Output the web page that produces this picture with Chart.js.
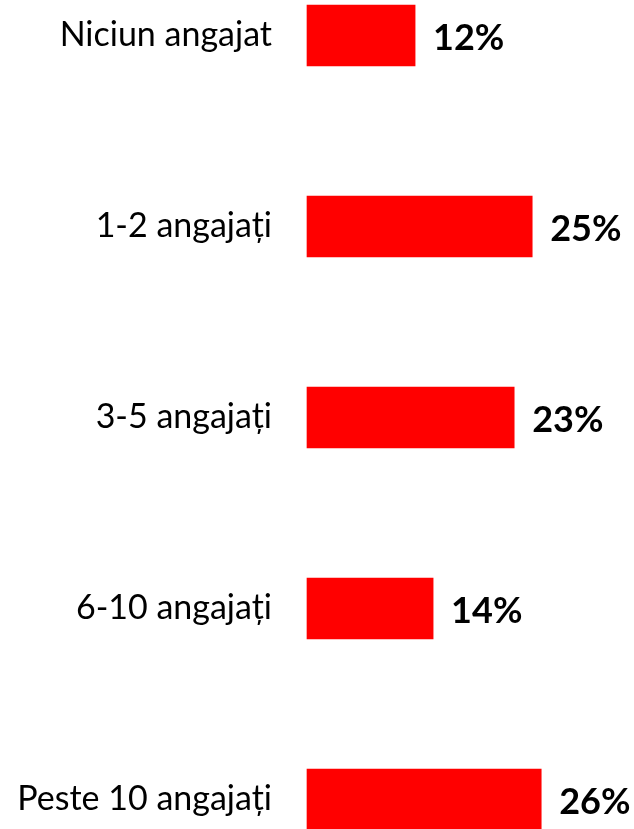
<!DOCTYPE html>
<html>
<head>
<meta charset="utf-8">
<script src="https://cdn.jsdelivr.net/npm/chart.js@4"></script>
<style>
  html, body { margin: 0; padding: 0; background: #ffffff; }
  #wrap { width: 634px; height: 829px; }
</style>
</head>
<body>
<div id="wrap"><canvas id="chartId"></canvas></div>
<script>
// chart data
const categories = ["Niciun angajat", "1-2 angajați", "3-5 angajați", "6-10 angajați", "Peste 10 angajați"];
const values = [12, 25, 23, 14, 26];
const valueLabels = ["12%", "25%", "23%", "14%", "26%"];

// draws the bold % text after each bar
const valueLabelPlugin = {
  id: 'valueLabels',
  afterDatasetsDraw(chart) {
    const ctx = chart.ctx;
    const meta = chart.getDatasetMeta(0);
    ctx.save();
    ctx.font = 'bold 36px Lato';
    ctx.fillStyle = '#000';
    ctx.textAlign = 'left';
    ctx.textBaseline = 'middle';
    meta.data.forEach((bar, i) => {
      ctx.fillText(valueLabels[i], bar.x + 18, bar.y + 3);
    });
    ctx.restore();
  }
};

var chrt = document.getElementById("chartId").getContext('2d');
var chartId = new Chart(chrt, {
  type: 'bar',
  data: {
    labels: categories,
    datasets: [{
      data: values,
      backgroundColor: '#ff0000',
      barThickness: 61,
      clip: false,
    }],
  },
  options: {
    indexAxis: 'y',
    maintainAspectRatio: false,
    responsive: true,
    animation: false,
    layout: { padding: { top: 35.5, bottom: 29.5, left: 0, right: 0 } },
    plugins: {
      legend: { display: false },
      tooltip: { enabled: false },
    },
    scales: {
      x: { display: false, min: 0, max: 36.3 },
      y: {
        offset: false,
        grid: { display: false, drawTicks: false },
        border: { display: false },
        ticks: { color: '#000', font: { family: 'Lato', size: 34 }, padding: 35 },
        afterFit(scale) {
          scale.width = 307;
          scale.paddingTop = 0;
          scale.paddingBottom = 0;
        }
      }
    }
  },
  plugins: [valueLabelPlugin]
});
</script>
</body>
</html>
